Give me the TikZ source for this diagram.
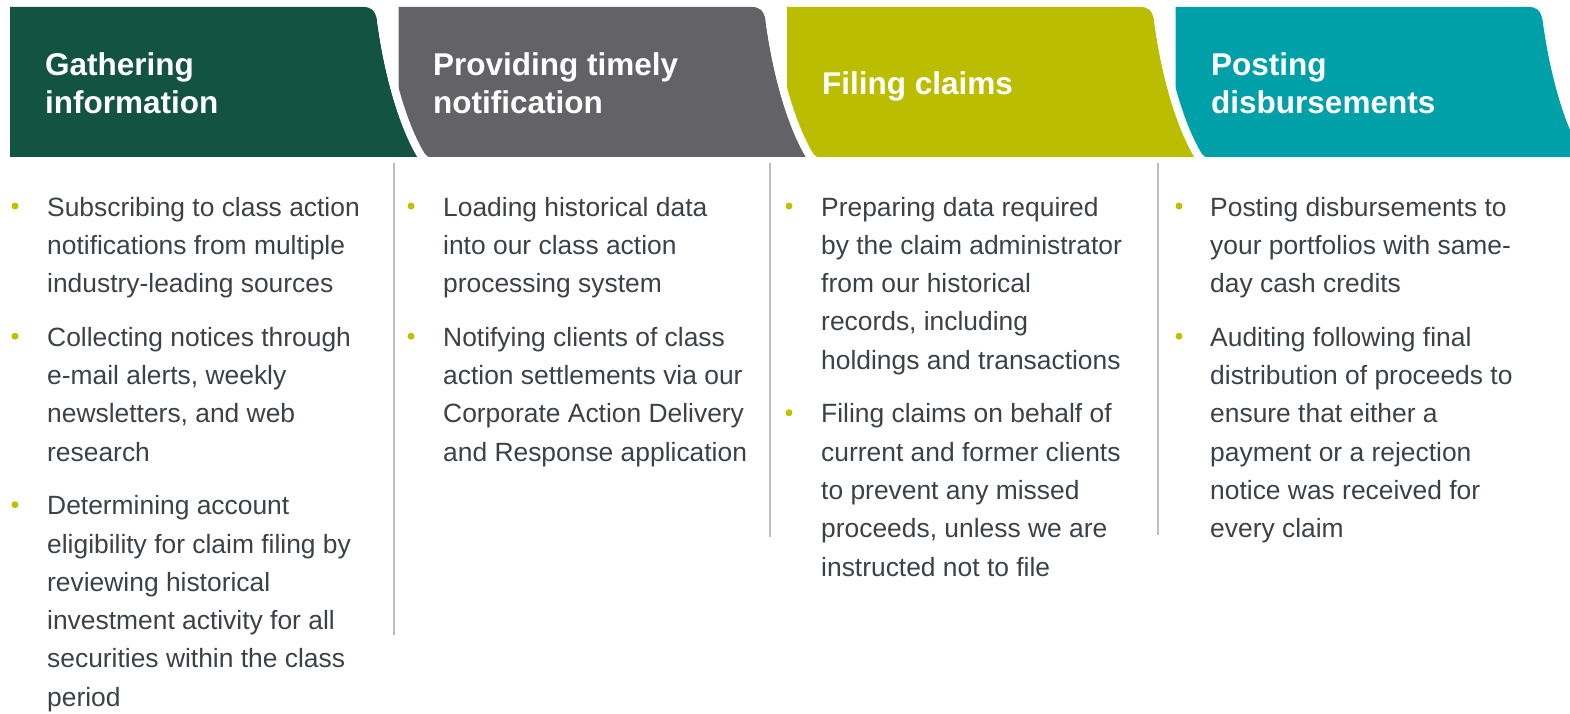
\documentclass[tikz,border=0pt]{standalone}
\usepackage{fontspec}
\setmainfont{Liberation Sans}
\usepackage{xcolor}

\definecolor{gatherc}{RGB}{18,83,65}
\definecolor{notifyc}{RGB}{99,98,102}
\definecolor{filec}{RGB}{187,190,0}
\definecolor{postc}{RGB}{0,160,168}
\definecolor{bulletc}{RGB}{190,193,0}
\definecolor{textc}{RGB}{60,65,71}
\definecolor{sepc}{RGB}{190,190,190}

\begin{document}
\begin{tikzpicture}[x=1pt, y=-1pt,
  headtext/.style={anchor=base west, align=left, text=white, inner sep=0pt,
    font=\bfseries\fontsize{31.5}{38}\selectfont},
  itemtext/.style={anchor=base west, align=left, text=textc, inner sep=0pt,
    font=\fontsize{26.4}{38.3}\selectfont},
  gapline/.style={draw=white, line width=8pt},
  sepline/.style={draw=sepc, line width=1.6pt}]
  \useasboundingbox (0,0) rectangle (1570,714);

  % Draw the header bands, right one first
  \fill[postc] (1175.5,157) -- (1175.5,7) -- (1528.5,7)
    .. controls (1536.5,7) and (1540.5,10) .. (1542.5,20)
    .. controls (1550.5,80) and (1566.5,130) .. (1583.5,157) -- cycle;
  \fill[filec] (787,157) -- (787,7) -- (1140,7)
    .. controls (1148,7) and (1152,10) .. (1154,20)
    .. controls (1162,80) and (1178,130) .. (1195,157) -- cycle;
  \draw[gapline] (1158,20) .. controls (1166,80) and (1182,130) .. (1199,157) -- (1215,170);
  \fill[notifyc] (398.5,157) -- (398.5,7) -- (751.5,7)
    .. controls (759.5,7) and (763.5,10) .. (765.5,20)
    .. controls (773.5,80) and (789.5,130) .. (806.5,157) -- cycle;
  \draw[gapline] (769.5,20) .. controls (777.5,80) and (793.5,130) .. (810.5,157) -- (826.5,170);
  \fill[gatherc] (10,157) -- (10,7) -- (363,7)
    .. controls (371,7) and (375,10) .. (377,20)
    .. controls (385,80) and (401,130) .. (418,157) -- cycle;
  \draw[gapline] (381,20) .. controls (389,80) and (405,130) .. (422,157) -- (438,170);

  % Header titles (base = baseline of the last line)
  \node[headtext] (gather) at (45,114) {Gathering\\information};
  \node[headtext] (notify) at (433,114) {Providing timely\\notification};
  \node[headtext] (file) at (822,95) {Filing claims};
  \node[headtext] (post) at (1211,114) {Posting\\disbursements};

  % Column separators
  \coordinate (s1a) at (394,163);
  \coordinate (s1b) at (394,635);
  \coordinate (s2a) at (770,163);
  \coordinate (s2b) at (770,537);
  \coordinate (s3a) at (1158,163);
  \coordinate (s3b) at (1158,535);
  \draw[sepline] (s1a) -- (s1b);
  \draw[sepline] (s2a) -- (s2b);
  \draw[sepline] (s3a) -- (s3b);

  % Column 1
  \node[itemtext] (g1) at (47,292.6) {Subscribing to class action\\notifications from multiple\\industry-leading sources};
  \node[itemtext] (g2) at (47,461.1) {Collecting notices through\\e-mail alerts, weekly\\newsletters, and web\\research};
  \node[itemtext] (g3) at (47,706.2) {Determining account\\eligibility for claim filing by\\reviewing historical\\investment activity for all\\securities within the class\\period};

  % Column 2
  \node[itemtext] (n1) at (443,292.6) {Loading historical data\\into our class action\\processing system};
  \node[itemtext] (n2) at (443,461.1) {Notifying clients of class\\action settlements via our\\Corporate Action Delivery\\and Response application};

  % Column 3
  \node[itemtext] (f1) at (821,369.2) {Preparing data required\\by the claim administrator\\from our historical\\records, including\\holdings and transactions};
  \node[itemtext] (f2) at (821,576) {Filing claims on behalf of\\current and former clients\\to prevent any missed\\proceeds, unless we are\\instructed not to file};

  % Column 4
  \node[itemtext] (p1) at (1210,292.6) {Posting disbursements to\\your portfolios with same-\\day cash credits};
  \node[itemtext] (p2) at (1210,537.7) {Auditing following final\\distribution of proceeds to\\ensure that either a\\payment or a rejection\\notice was received for\\every claim};

  % Bullets
  \fill[bulletc] (15,206) circle (3.5);
  \fill[bulletc] (15,336.2) circle (3.5);
  \fill[bulletc] (15,504.7) circle (3.5);
  \fill[bulletc] (411,206) circle (3.5);
  \fill[bulletc] (411,336.2) circle (3.5);
  \fill[bulletc] (789,206) circle (3.5);
  \fill[bulletc] (789,412.8) circle (3.5);
  \fill[bulletc] (1179,206) circle (3.5);
  \fill[bulletc] (1179,336.2) circle (3.5);

\end{tikzpicture}
\end{document}
